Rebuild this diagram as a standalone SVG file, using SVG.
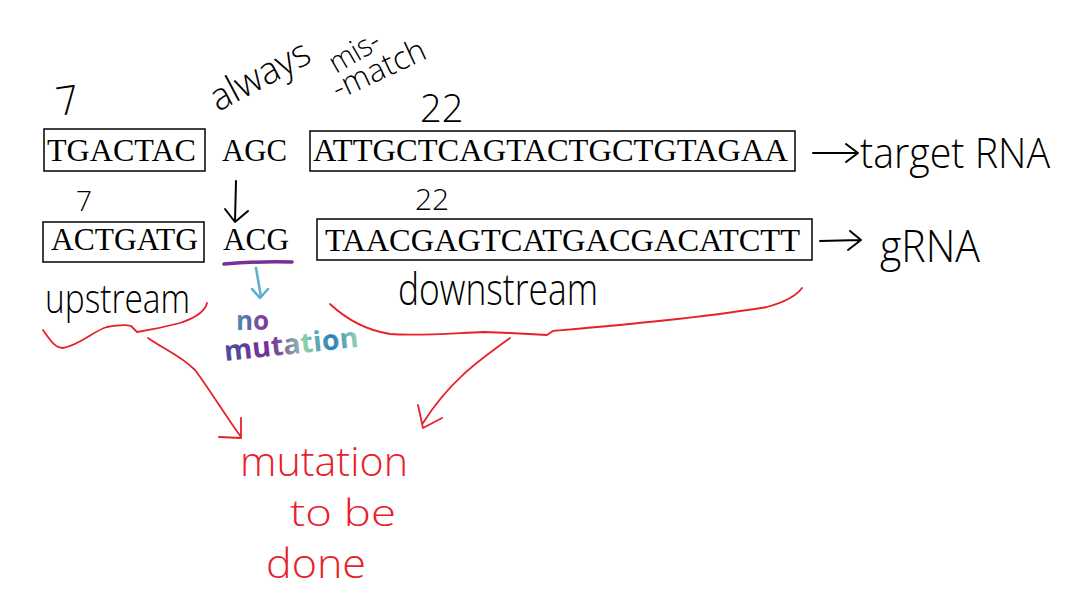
<svg xmlns="http://www.w3.org/2000/svg" width="1073" height="590" viewBox="0 0 1073 590">
<defs>
<style>
.seq{font-family:"Liberation Serif","Times New Roman",serif;font-size:31.5px;fill:#000}
.box{fill:none;stroke:#000;stroke-width:1.5}
.hw{font-family:"Open Sans","DejaVu Sans",sans-serif;font-weight:300;fill:#000}
.ink{fill:none;stroke:#000;stroke-width:2;stroke-linecap:round;stroke-linejoin:round}
.red{fill:none;stroke:#e8202a;stroke-width:1.8;stroke-linecap:round;stroke-linejoin:round}
.redt{font-family:"Open Sans","DejaVu Sans",sans-serif;font-weight:300;fill:#e8202a}
</style>
<linearGradient id="rainbow" x1="0" y1="0" x2="1" y2="0">
<stop offset="0" stop-color="#4a4f9c"/>
<stop offset="0.35" stop-color="#7a2f96"/>
<stop offset="0.6" stop-color="#8fcfb0"/>
<stop offset="0.8" stop-color="#2a7fb8"/>
<stop offset="1" stop-color="#9ad7b8"/>
</linearGradient>
<linearGradient id="rainbow2" x1="0" y1="0" x2="1" y2="0">
<stop offset="0" stop-color="#4a8fb8"/>
<stop offset="1" stop-color="#8a2f96"/>
</linearGradient>
</defs>
<rect width="1073" height="590" fill="#fff"/>

<g id="target-upstream">
<rect class="box" x="44" y="129" width="161" height="42"/>
<text class="seq" x="47" y="161" textLength="149" lengthAdjust="spacingAndGlyphs">TGACTAC</text>
</g>
<g id="target-mismatch">
<text class="seq" x="222" y="161" textLength="65" lengthAdjust="spacingAndGlyphs">AGC</text>
</g>
<g id="target-downstream">
<rect class="box" x="310" y="131" width="485" height="40"/>
<text class="seq" x="313" y="161" textLength="475" lengthAdjust="spacingAndGlyphs">ATTGCTCAGTACTGCTGTAGAA</text>
</g>
<g id="grna-upstream">
<rect class="box" x="43" y="222" width="161" height="40"/>
<text class="seq" x="51" y="250" textLength="147" lengthAdjust="spacingAndGlyphs">ACTGATG</text>
</g>
<g id="grna-mismatch">
<text class="seq" x="223" y="250" textLength="66" lengthAdjust="spacingAndGlyphs">ACG</text>
</g>
<g id="grna-downstream">
<rect class="box" x="317" y="219" width="495" height="41"/>
<text class="seq" x="325" y="251" textLength="475" lengthAdjust="spacingAndGlyphs">TAACGAGTCATGACGACATCTT</text>
</g>

<g id="labels">
<text class="hw" x="860" y="168" font-size="42" textLength="190" lengthAdjust="spacingAndGlyphs">target RNA</text>
<text class="hw" x="880" y="262" font-size="44" textLength="100" lengthAdjust="spacingAndGlyphs">gRNA</text>
<text class="hw" font-size="40" transform="translate(58,116) rotate(-8)">7</text>
<text class="hw" x="76" y="211" font-size="28">7</text>
<text class="hw" x="420" y="122" font-size="38">22</text>
<text class="hw" x="415" y="210" font-size="30">22</text>
<text class="hw" x="45" y="313" font-size="40" textLength="145" lengthAdjust="spacingAndGlyphs">upstream</text>
<text class="hw" x="398" y="305" font-size="44" textLength="200" lengthAdjust="spacingAndGlyphs">downstream</text>
<text class="hw" font-size="38" transform="translate(218,112) rotate(-28)" textLength="108" lengthAdjust="spacingAndGlyphs">always</text>
<text class="hw" font-size="30" transform="translate(336,74) rotate(-30)" textLength="54" lengthAdjust="spacingAndGlyphs">mis-</text>
<text class="hw" font-size="32" transform="translate(338,100) rotate(-25)" textLength="100" lengthAdjust="spacingAndGlyphs">-match</text>
<text font-family="'Open Sans','DejaVu Sans',sans-serif" font-weight="700" font-size="26" fill="url(#rainbow2)" x="236" y="330">no</text>
<text font-family="'Open Sans','DejaVu Sans',sans-serif" font-weight="700" font-size="28" fill="url(#rainbow)" transform="translate(225,361) rotate(-6)" textLength="135" lengthAdjust="spacingAndGlyphs">mutation</text>
<text class="redt" x="240" y="476" font-size="40" textLength="168" lengthAdjust="spacingAndGlyphs">mutation</text>
<text class="redt" x="290" y="526" font-size="36" textLength="106" lengthAdjust="spacingAndGlyphs">to be</text>
<text class="redt" x="266" y="578" font-size="40" textLength="100" lengthAdjust="spacingAndGlyphs">done</text>
</g>

<g id="connectors">
<path class="ink" d="M813,153 L857,153 M846,144 L858,153 L846,162"/>
<path class="ink" d="M820,241 L860,240 M850,231 L861,240 L848,250"/>
<path class="ink" d="M236,181 L235,221 M225,209 L235,222 L248,211"/>
<path d="M224,264 Q258,261 292,262" fill="none" stroke="#7a2f96" stroke-width="3.5" stroke-linecap="round"/>
<path d="M256,268 L261,297 M252,289 L260,298 L268,289" fill="none" stroke="#5ab0d0" stroke-width="2.5" stroke-linecap="round" stroke-linejoin="round"/>
<path class="red" d="M43,330 C50,340 55,348 63,348 C80,345 95,330 107,327 C118,325 128,325 131,326 L137,332 C150,330 165,327 180,323 C195,318 205,312 207,303"/>
<path class="red" d="M330,304 C345,318 365,330 390,334 C420,336 455,333 483,332 L510,333 L547,335 L553,331 C620,325 700,318 767,307 C785,302 797,295 802,288"/>
<path class="red" d="M148,338 C165,350 180,355 195,370 C210,390 225,415 241,437 M241,418 L241,438 L219,437"/>
<path class="red" d="M510,338 C480,360 450,380 423,423 M418,405 L423,428 L442,418"/>
</g>
</svg>
